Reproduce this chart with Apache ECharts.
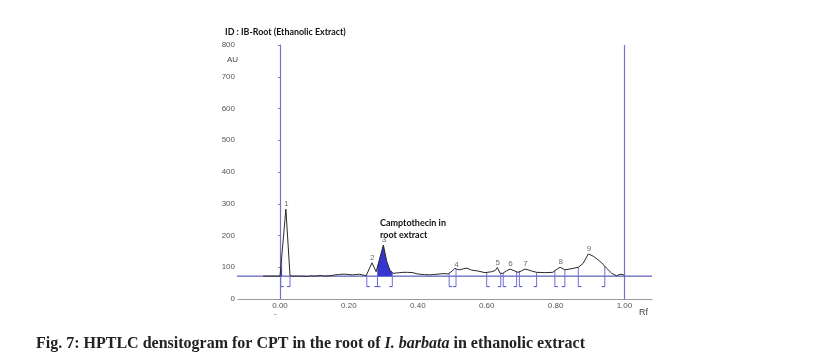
<!DOCTYPE html>
<html>
<head>
<meta charset="utf-8">
<script src="https://cdn.jsdelivr.net/npm/echarts@6/dist/echarts.min.js"></script>
<style>html,body{margin:0;padding:0;background:#fff}#c{width:825px;height:363px}</style>
</head>
<body>
<div id="c"></div>
<script>
// ---- data ----
const rfTicks = [0, 0.2, 0.4, 0.6, 0.8, 1.0];
const curveRf = [-0.049,-0.02,0.0,0.002,0.017,0.029,0.035,0.06,0.08,0.09,0.1,0.12,0.13,0.14,0.15,0.16,0.17,0.18,0.19,0.2,0.21,0.22,0.23,0.24,0.25,0.255,0.267,0.279,0.30,0.31,0.319,0.328,0.34,0.357,0.37,0.386,0.395,0.406,0.42,0.435,0.445,0.456,0.473,0.488,0.5,0.508,0.515,0.522,0.532,0.543,0.556,0.575,0.595,0.615,0.625,0.631,0.639,0.647,0.658,0.668,0.682,0.691,0.7,0.711,0.72,0.731,0.745,0.769,0.792,0.805,0.813,0.827,0.845,0.866,0.88,0.895,0.909,0.924,0.934,0.948,0.963,0.977,0.987,0.996,1.0];
const curveAU = [72,72,72,73,283,74,72,72,71,73,72,74,72,73,74,76,77,78,78,77,76,77,78,76,73,74,114,86,170,118,91,81,82,84,84,83,80,78,77,76,77,78,80,79,88,97,93,92,95,97,91,88,83,86,90,99,81,81,89,94,88,84,88,94,92,88,84,83,84,95,100,92,95,100,112,142,135,123,114,97,81,73,78,77,73];
const baselineAU = 72;
const fillFrom = [0.0, 0.283];
const fillTo = [0.006, 0.326];
const boundaryRf = [0.002,0.029,0.252,0.283,0.283,0.326,0.491,0.511,0.600,0.641,0.648,0.687,0.695,0.745,0.798,0.827,0.866,0.943];
const boundarySide = [1,-1,1,-1,1,-1,1,-1,1,-1,1,-1,1,-1,1,-1,1,-1];
const peakNames = ['1','2','3','4','5','6','7','8','9'];
const peakRf = [0.019,0.268,0.302,0.512,0.632,0.669,0.713,0.815,0.897];
const peakAU = [283,114,170,92,99,94,94,100,142];

// ---- helpers ----
const BRACKET_AU = 39;
function interp(x){
  for (let i=0;i<curveRf.length-1;i++){
    if (x>=curveRf[i] && x<=curveRf[i+1]){
      const t=(x-curveRf[i])/(curveRf[i+1]-curveRf[i]);
      return curveAU[i]+t*(curveAU[i+1]-curveAU[i]);
    }
  }
  return baselineAU;
}
const curveData = curveRf.map((r,i)=>[r,curveAU[i]]);
const BLUE_V = '#7272c6', BLUE_B = '#3a3aa6', BLUE_M = '#4a4acc', BLUE_F = '#3535cf';

const chart = echarts.init(document.getElementById('c'), null, {renderer:'canvas'});
chart.setOption({
  animation:false,
  backgroundColor:'#fff',
  title:[{
    text:'ID : IB-Root (Ethanolic Extract)',
    left:225, top:28, padding:0,
    textStyle:{fontFamily:'Lato', fontWeight:'bold', fontSize:8.9, color:'#111'}
  },{
    text:'{b|Fig. 7: HPTLC densitogram for CPT in the root of }{i|I. barbata}{b| in ethanolic extract}',
    left:36, top:336, padding:0,
    textStyle:{rich:{
      b:{fontFamily:'Liberation Serif', fontWeight:'bold', fontSize:16, color:'#222'},
      i:{fontFamily:'Liberation Serif', fontWeight:'bold', fontStyle:'italic', fontSize:16, color:'#222'}
    }}
  }],
  grid:{left:238, right:173, top:45, bottom:64},
  xAxis:{
    type:'value', min:-0.122, max:1.08,
    axisLine:{show:true, onZero:false, lineStyle:{color:'#9a9a9a', width:1}},
    axisTick:{show:false},
    splitLine:{show:false},
    axisLabel:{customValues:rfTicks, formatter:v=>v.toFixed(2), fontFamily:'Liberation Sans', fontSize:8, color:'#555', margin:3}
  },
  yAxis:{
    type:'value', min:0, max:800, interval:100,
    axisLine:{show:true, lineStyle:{color:'#8a8a8a', width:1}},
    axisTick:{show:true, length:2, lineStyle:{color:'#8a8a8a'}},
    splitLine:{show:false},
    axisLabel:{fontFamily:'Liberation Sans', fontSize:8, color:'#555', margin:3}
  },
  graphic:[
    {type:'text', left:227, top:56, style:{text:'AU', font:'8px "Liberation Sans"', fill:'#444'}},
    {type:'text', left:639, top:308, style:{text:'Rf', font:'9px "Liberation Sans"', fill:'#444'}},
    {type:'text', left:274, top:310, style:{text:'-', font:'8px "Liberation Sans"', fill:'#666'}},
    {type:'text', left:380, top:217, style:{text:'Camptothecin in\nroot extract', font:'bold 9px Lato', fill:'#111', lineHeight:12}}
  ],
  series:[
    {
      type:'line', name:'baseline', data:[[-0.175,baselineAU],[1.08,baselineAU]],
      clip:false, symbol:'none', silent:true, z:2,
      lineStyle:{color:BLUE_B, width:1}
    },
    {
      type:'custom', name:'fill', z:3, silent:true,
      data:fillFrom.map((a,i)=>[a,fillTo[i]]),
      renderItem:function(params, api){
        const a=api.value(0), b=api.value(1);
        const pts=[api.coord([a,baselineAU]), api.coord([a,interp(a)])];
        curveRf.forEach((r,i)=>{ if(r>a && r<b) pts.push(api.coord([r,curveAU[i]])); });
        pts.push(api.coord([b,interp(b)]));
        pts.push(api.coord([b,baselineAU]));
        return {type:'polygon', shape:{points:pts}, style:{fill:BLUE_F}};
      }
    },
    {
      type:'line', name:'densitogram', data:curveData, symbol:'none', z:5,
      lineStyle:{color:'#2a2a2a', width:1},
      markLine:{
        silent:true, symbol:['none','none'], label:{show:false},
        lineStyle:{color:BLUE_V, width:1.2, type:'solid'},
        data:[{xAxis:0},{xAxis:1}]
      }
    },
    {
      type:'custom', name:'boundaries', z:4, silent:true,
      data:boundaryRf.map((r,i)=>[r,boundarySide[i]]),
      renderItem:function(params, api){
        const r=api.value(0), s=api.value(1);
        const top=api.coord([r,interp(r)]);
        const bot=api.coord([r,BRACKET_AU]);
        return {type:'group', children:[
          {type:'line', shape:{x1:top[0],y1:top[1],x2:bot[0],y2:bot[1]}, style:{stroke:'#6e6ed4', lineWidth:1}},
          {type:'line', shape:{x1:bot[0],y1:bot[1],x2:bot[0]+3*s,y2:bot[1]}, style:{stroke:BLUE_M, lineWidth:1}}
        ]};
      }
    },
    {
      type:'scatter', name:'peaks', symbolSize:0, z:6, silent:true,
      data:peakRf.map((r,i)=>({value:[r,peakAU[i]], name:peakNames[i]})),
      label:{show:true, position:'top', distance:1, formatter:p=>p.name, fontFamily:'Liberation Sans', fontSize:8, color:'#444'}
    }
  ]
});
</script>
</body>
</html>
